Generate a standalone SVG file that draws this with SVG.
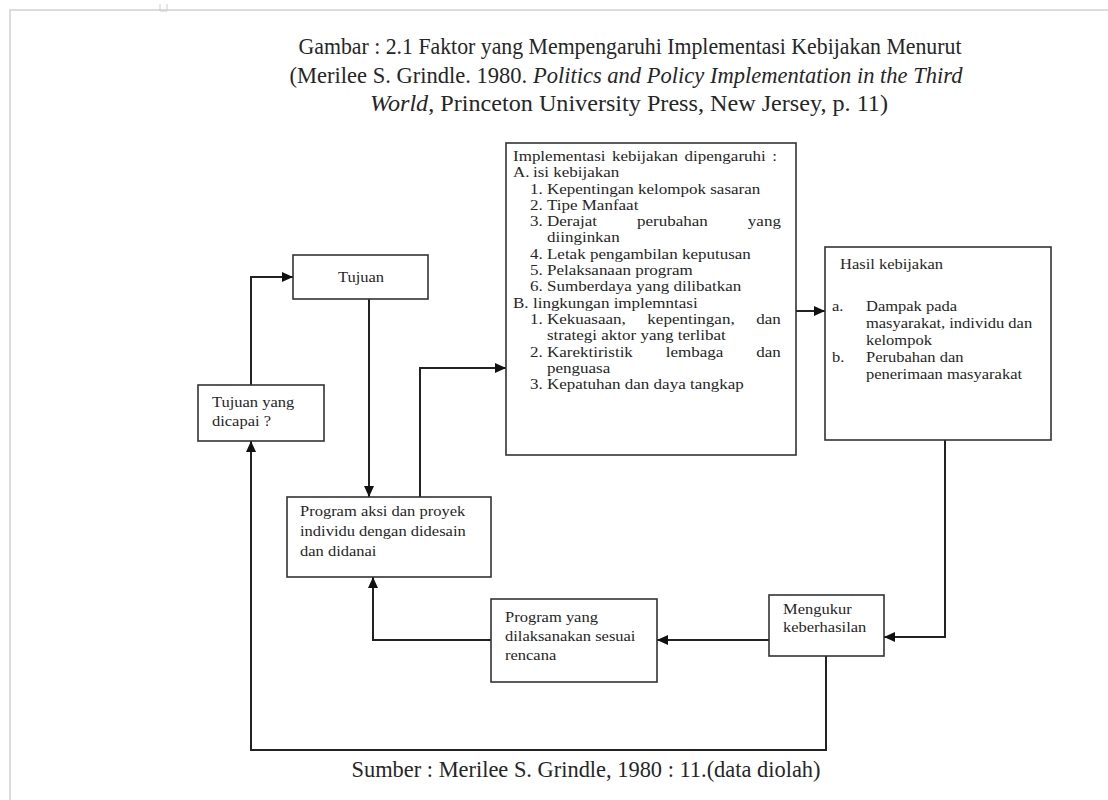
<svg xmlns="http://www.w3.org/2000/svg" width="1108" height="800" viewBox="0 0 1108 800">
<style>
text{font-family:"Liberation Serif","Times New Roman",serif;fill:#262626;}
.t{font-size:14.5px;}
.tb{font-size:14px;}
.ti{font-size:23px;}
.box{fill:#fff;stroke:#333;stroke-width:1.6;}
.con{fill:none;stroke:#222;stroke-width:2;}
.pg{fill:none;stroke:#dcdcdc;stroke-width:2;}
</style>
<defs>
<marker id="ah" markerUnits="userSpaceOnUse" markerWidth="11" markerHeight="10" refX="11" refY="5" orient="auto">
<path d="M0,0 L11,5 L0,10 z" fill="#111"/>
</marker>
</defs>
<rect x="0" y="0" width="1108" height="800" fill="#fff"/>
<path class="pg" d="M10,800 V10 H1108"/>
<path d="M160,4 V11 H167 V4" fill="none" stroke="#ccc" stroke-width="1"/>

<g id="title">
<text class="ti" x="630" y="54" text-anchor="middle" textLength="663" lengthAdjust="spacingAndGlyphs">Gambar : 2.1 Faktor yang Mempengaruhi Implementasi Kebijakan Menurut</text>
<text class="ti" x="626" y="83" text-anchor="middle" textLength="673" lengthAdjust="spacingAndGlyphs">(Merilee S. Grindle. 1980. <tspan font-style="italic">Politics and Policy Implementation in the Third</tspan></text>
<text class="ti" x="629" y="111" text-anchor="middle" textLength="518" lengthAdjust="spacingAndGlyphs"><tspan font-style="italic">World</tspan>, Princeton University Press, New Jersey, p. 11)</text>
</g>

<g id="connectors">
<path class="con" d="M251,385 V277 H293" marker-end="url(#ah)"/>
<path class="con" d="M369,299 V497" marker-end="url(#ah)"/>
<path class="con" d="M420,497 V368 H506" marker-end="url(#ah)"/>
<path class="con" d="M796,311 H825" marker-end="url(#ah)"/>
<path class="con" d="M945,440 V637 H884" marker-end="url(#ah)"/>
<path class="con" d="M769,640 H657" marker-end="url(#ah)"/>
<path class="con" d="M491,640 H373 V577" marker-end="url(#ah)"/>
<path class="con" d="M826,656 V750 H251 V441" marker-end="url(#ah)"/>
</g>

<g id="tujuan">
<rect class="box" x="293" y="255" width="135" height="44"/>
<g transform="scale(1.138,1)"><text class="t" x="317.22" y="282" text-anchor="middle">Tujuan</text></g>
</g>

<g id="tujuan-dicapai">
<rect class="box" x="198" y="385" width="126" height="56"/>
<g transform="scale(1.138,1)">
<text class="t" x="186.29" y="407">Tujuan yang</text>
<text class="t" x="186.29" y="426">dicapai ?</text>
</g>
</g>

<g id="program-aksi">
<rect class="box" x="287" y="497" width="204" height="80"/>
<g transform="scale(1.138,1)">
<text class="t" x="263.62" y="516">Program aksi dan proyek</text>
<text class="t" x="263.62" y="536">individu dengan didesain</text>
<text class="t" x="263.62" y="556">dan didanai</text>
</g>
</g>

<g id="implementasi">
<rect class="box" x="506" y="143" width="290" height="312"/>
<g transform="scale(1.2143,1)">
<text class="tb" x="422.47" y="161" word-spacing="1.9">Implementasi kebijakan dipengaruhi :</text>
<text class="tb" x="422.47" y="177.3">A.</text><text class="tb" x="438.9" y="177.3">isi kebijakan</text>
<text class="tb" x="436.46" y="193.6">1.</text><text class="tb" x="450.46" y="193.6">Kepentingan kelompok sasaran</text>
<text class="tb" x="436.46" y="209.9">2.</text><text class="tb" x="450.46" y="209.9">Tipe Manfaat</text>
<text class="tb" x="436.46" y="226.2">3.</text><text class="tb" x="450.46" y="226.2" word-spacing="29.5">Derajat perubahan yang</text>
<text class="tb" x="450.46" y="242.5">diinginkan</text>
<text class="tb" x="436.46" y="258.8">4.</text><text class="tb" x="450.46" y="258.8">Letak pengambilan keputusan</text>
<text class="tb" x="436.46" y="275.1">5.</text><text class="tb" x="450.46" y="275.1">Pelaksanaan program</text>
<text class="tb" x="436.46" y="291.4">6.</text><text class="tb" x="450.46" y="291.4">Sumberdaya yang dilibatkan</text>
<text class="tb" x="422.47" y="307.7">B.</text><text class="tb" x="438.9" y="307.7">lingkungan implemntasi</text>
<text class="tb" x="436.46" y="324">1.</text><text class="tb" x="450.46" y="324" word-spacing="14.3">Kekuasaan, kepentingan, dan</text>
<text class="tb" x="450.46" y="340.3">strategi aktor yang terlibat</text>
<text class="tb" x="436.46" y="356.6">2.</text><text class="tb" x="450.46" y="356.6" word-spacing="23.6">Karektiristik lembaga dan</text>
<text class="tb" x="450.46" y="372.9">penguasa</text>
<text class="tb" x="436.46" y="389.2">3.</text><text class="tb" x="450.46" y="389.2">Kepatuhan dan daya tangkap</text>
</g>
</g>

<g id="hasil">
<rect class="box" x="825" y="247" width="226" height="193"/>
<g transform="scale(1.138,1)">
<text class="t" x="738.14" y="269">Hasil kebijakan</text>
<text class="t" x="731.11" y="311">a.</text><text class="t" x="760.98" y="311">Dampak pada</text>
<text class="t" x="760.98" y="328">masyarakat, individu dan</text>
<text class="t" x="760.98" y="345">kelompok</text>
<text class="t" x="731.11" y="362">b.</text><text class="t" x="760.98" y="362">Perubahan dan</text>
<text class="t" x="760.98" y="379">penerimaan masyarakat</text>
</g>
</g>

<g id="mengukur">
<rect class="box" x="769" y="595" width="115" height="61"/>
<g transform="scale(1.138,1)">
<text class="t" x="688.05" y="614">Mengukur</text>
<text class="t" x="688.05" y="632">keberhasilan</text>
</g>
</g>

<g id="program-dilaksanakan">
<rect class="box" x="491" y="599" width="166" height="83"/>
<g transform="scale(1.138,1)">
<text class="t" x="443.76" y="622">Program yang</text>
<text class="t" x="443.76" y="641">dilaksanakan sesuai</text>
<text class="t" x="443.76" y="660">rencana</text>
</g>
</g>

<g id="sumber">
<text class="ti" x="586" y="777" text-anchor="middle" textLength="469" lengthAdjust="spacingAndGlyphs">Sumber : Merilee S. Grindle, 1980 : 11.(data diolah)</text>
</g>
</svg>
